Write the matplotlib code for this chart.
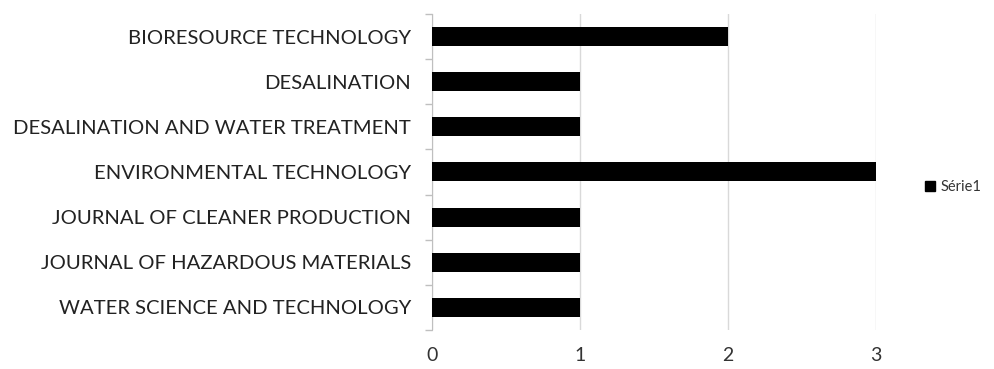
import matplotlib.pyplot as plt
from matplotlib.patches import Patch

plt.rcParams['font.family'] = ['Lato', 'DejaVu Sans']

# journaux (de haut en bas) et nombre d'articles
journals = ['BIORESOURCE TECHNOLOGY', 'DESALINATION', 'DESALINATION AND WATER TREATMENT',
            'ENVIRONMENTAL TECHNOLOGY', 'JOURNAL OF CLEANER PRODUCTION',
            'JOURNAL OF HAZARDOUS MATERIALS', 'WATER SCIENCE AND TECHNOLOGY']
counts = [2, 1, 1, 3, 1, 1, 1]
x_ticks = [0, 1, 2, 3]

fig = plt.figure(figsize=(9.95, 3.69), dpi=100)
ax = fig.add_axes([0.434, 0.106, 0.446, 0.856])

y = list(range(len(journals)))[::-1]
ax.barh(y, counts, height=0.42, color='black', zorder=3)

ax.set_xlim(0, 3)
ax.set_ylim(-0.5, len(journals) - 0.5)
ax.set_xticks(x_ticks)
ax.set_xticklabels([str(t) for t in x_ticks], fontsize=14, color='#333333')
ax.set_yticks(y)
ax.set_yticklabels(journals, fontsize=14.6, color='#222222')

# traits de graduation aux limites des catégories
ax.set_yticks([i - 0.5 for i in range(len(journals) + 1)], minor=True)
ax.tick_params(axis='y', which='major', length=0, pad=15)
ax.tick_params(axis='y', which='minor', length=5, color='#bfbfbf', width=1)
ax.tick_params(axis='x', length=0, pad=12)

ax.grid(axis='x', color='#d9d9d9', linewidth=1, zorder=0)
for s in ['top', 'right', 'bottom']:
    ax.spines[s].set_visible(False)
ax.spines['left'].set_color('#bfbfbf')

fig.legend(handles=[Patch(color='black', label='Série1')], loc='center left',
           bbox_to_anchor=(0.916, 0.494), frameon=False, fontsize=10.5,
           handlelength=0.7, handleheight=0.7, handletextpad=0.4, labelcolor='#333333')

fig.savefig('out.png', dpi=100)
